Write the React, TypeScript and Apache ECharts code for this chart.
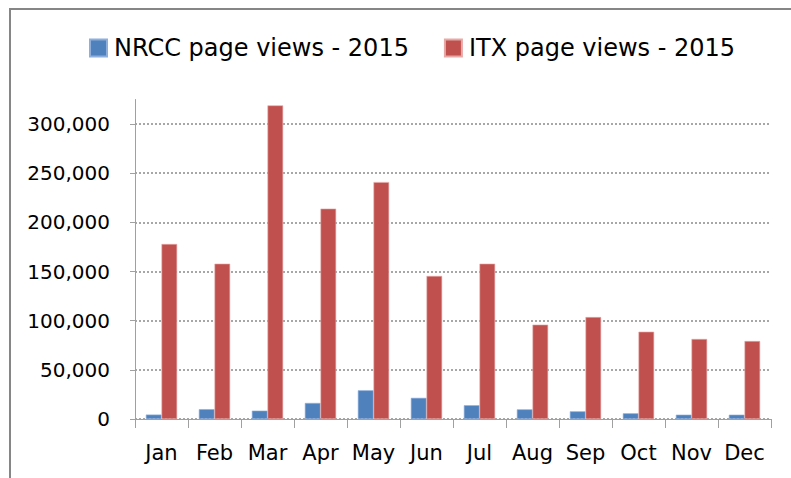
import React, { useEffect, useRef } from "react";
import * as echarts from "echarts";

const months = ["Jan", "Feb", "Mar", "Apr", "May", "Jun", "Jul", "Aug", "Sep", "Oct", "Nov", "Dec"];
const nrccViews = [4500, 10000, 8500, 16300, 29200, 21500, 14000, 9800, 7800, 5800, 4400, 4400];
const itxViews = [178000, 158000, 319000, 214000, 241000, 145500, 158000, 96000, 103700, 88800, 81400, 79300];
const seriesNames = ["NRCC page views - 2015", "ITX page views - 2015"];
const yMax = 325000;
const yInterval = 50000;

const FONT = "DejaVu Sans";

export default function App() {
  const ref = useRef<HTMLDivElement>(null);
  useEffect(() => {
    if (!ref.current) return;
    const chart = echarts.init(ref.current, null, { renderer: "svg" });
    chart.setOption({
      animation: false,
      backgroundColor: "#ffffff",
      textStyle: { fontFamily: FONT },
      graphic: [
        {
          type: "rect",
          shape: { x: 10, y: 9, width: 800, height: 500 },
          style: { fill: "none", stroke: "#868686", lineWidth: 2 },
          silent: true,
        },
      ],
      legend: {
        top: 31,
        left: 84,
        itemWidth: 17,
        itemHeight: 17,
        itemGap: 35,
        icon: "rect",
        textStyle: { fontSize: 24, color: "#000", fontFamily: FONT, padding: [0, 0, 0, 2] },
        data: seriesNames,
      },
      grid: { left: 135, right: 20, top: 99.5, bottom: 59, containLabel: false },
      xAxis: {
        type: "category",
        data: months,
        boundaryGap: true,
        axisLine: { lineStyle: { color: "#a0a0a0", width: 1 } },
        axisTick: { show: true, length: 9, interval: 0, lineStyle: { color: "#a0a0a0" } },
        axisLabel: { fontSize: 21, color: "#000", margin: 23, interval: 0, fontFamily: FONT },
      },
      yAxis: {
        type: "value",
        min: 0,
        max: yMax,
        interval: yInterval,
        axisLine: { show: true, lineStyle: { color: "#a0a0a0", width: 1 } },
        axisTick: { show: true, length: 5, lineStyle: { color: "#a0a0a0" } },
        axisLabel: {
          fontSize: 20,
          color: "#000",
          margin: 25,
          fontFamily: FONT,
          showMaxLabel: false,
          formatter: (v: number) => (v === yMax ? "" : v.toLocaleString("en-US")),
        },
        splitLine: {
          show: true,
          showMaxLine: false,
          lineStyle: { color: "#8a8a8a", type: [2, 2], width: 1.5 },
        },
      },
      series: [
        {
          name: seriesNames[0],
          type: "bar",
          data: nrccViews,
          barGap: "0%",
          barCategoryGap: "41%",
          itemStyle: { color: "#4F81BD", borderColor: "#8eaedb", borderWidth: 0.6 },
        },
        {
          name: seriesNames[1],
          type: "bar",
          data: itxViews,
          barGap: "0%",
          barCategoryGap: "41%",
          itemStyle: { color: "#C0504D", borderColor: "#e6a9a7", borderWidth: 0.6 },
        },
      ],
    });
    return () => chart.dispose();
  }, []);
  return (
    <div
      ref={ref}
      style={{ position: "fixed", left: 0, top: 0, width: 791, height: 478 }}
    />
  );
}
